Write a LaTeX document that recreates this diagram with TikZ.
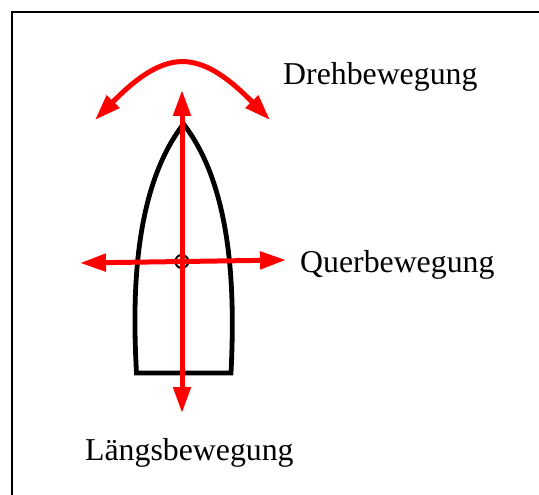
\documentclass[tikz,border=0pt]{standalone}
\usepackage{fontspec}
\setmainfont{Liberation Serif}
\usetikzlibrary{arrows.meta}
\begin{document}
\begin{tikzpicture}[x=1pt,y=-1pt,
  frame/.style={line width=2.3pt,black},
  hull/.style={line width=4.8pt,black,line join=miter},
  redarrow/.style={line width=5pt,red,{Triangle[width=17pt,length=26pt]}-{Triangle[width=17pt,length=26pt]}},
  lbl/.style={anchor=base west,inner sep=0pt,font=\fontsize{31.8}{38}\selectfont}]
\useasboundingbox (0,0) rectangle (539,495);
\fill[white] (0,0) rectangle (539,495);
\draw[frame] (12,495) -- (12,12) -- (539,12);
% hull
\coordinate (bow) at (183.5,124);
\coordinate (sternL) at (136.5,373);
\coordinate (sternR) at (231,373);
\draw[hull] (sternR) -- (sternL)
  .. controls (132.5,300) and (132.5,190) .. (bow)
  .. controls (234.5,190) and (234.5,300) .. (sternR) -- cycle;
% centre
\node[draw,circle,line width=2pt,minimum size=13pt,inner sep=0pt] (c) at (181.8,261.5) {};
% arrows
\coordinate (vt) at (182,90);
\coordinate (vb) at (182,413);
\coordinate (hl) at (80,263);
\coordinate (hr) at (286,260);
\coordinate (al) at (95,120);
\coordinate (ar) at (270,120);
\draw[redarrow] (vt) -- (vb);
\draw[redarrow] (hl) -- (hr);
\draw[redarrow] (al) .. controls (166,48) and (199,48) .. (ar);
% labels
\node[lbl] (dreh) at (283,84.3) {Drehbewegung};
\node[lbl] (quer) at (300,272) {Querbewegung};
\node[lbl] (laengs) at (85,460) {Längsbewegung};
\end{tikzpicture}
\end{document}
